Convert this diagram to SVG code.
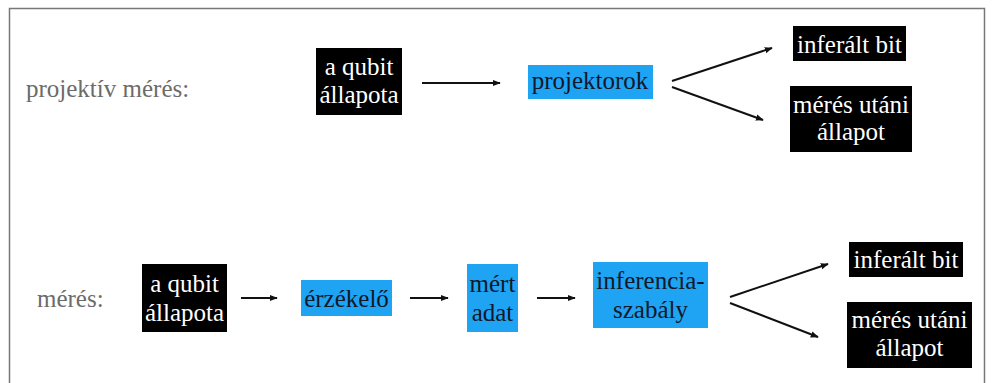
<svg xmlns="http://www.w3.org/2000/svg" width="994" height="383" viewBox="0 0 994 383">
<defs>
<marker id="ah" viewBox="0 0 10 10" refX="9" refY="5" markerWidth="4" markerHeight="4" orient="auto" markerUnits="strokeWidth">
<path d="M0,1 L10,5 L0,9 z" fill="#111"/>
</marker>
<style>
.blk{fill:#000}
.blu{fill:#1fa3f3}
.con line{stroke:#111;stroke-width:2;marker-end:url(#ah)}
</style>
</defs>
<rect width="994" height="383" fill="#fff"/>
<rect x="9.5" y="8.5" width="975" height="390" fill="none" stroke="#777" stroke-width="1.5"/>

<text x="26" y="97" font-family="Liberation Serif" font-size="25" fill="#6b6b6b">projektív mérés:</text>
<text x="37" y="307" font-family="Liberation Serif" font-size="25" fill="#6b6b6b">mérés:</text>

<g id="q1"><rect class="blk" x="316" y="48" width="86" height="67"/><text x="359" y="75" font-family="Liberation Serif" font-size="25" fill="#fff" text-anchor="middle">a qubit</text><text x="359" y="103" font-family="Liberation Serif" font-size="25" fill="#fff" text-anchor="middle">állapota</text></g>
<g id="proj"><rect class="blu" x="528" y="65" width="125" height="34"/><text x="590" y="89" font-family="Liberation Serif" font-size="25" fill="#10182a" text-anchor="middle">projektorok</text></g>
<g id="bit1"><rect class="blk" x="793" y="26" width="113" height="35"/><text x="849.5" y="53" font-family="Liberation Serif" font-size="25" fill="#fff" text-anchor="middle">inferált bit</text></g>
<g id="post1"><rect class="blk" x="790" y="86" width="122" height="66"/><text x="851" y="113" font-family="Liberation Serif" font-size="25" fill="#fff" text-anchor="middle">mérés utáni</text><text x="851" y="140" font-family="Liberation Serif" font-size="25" fill="#fff" text-anchor="middle">állapot</text></g>

<g id="q2"><rect class="blk" x="142" y="264" width="85" height="68"/><text x="184.5" y="292" font-family="Liberation Serif" font-size="25" fill="#fff" text-anchor="middle">a qubit</text><text x="184.5" y="321" font-family="Liberation Serif" font-size="25" fill="#fff" text-anchor="middle">állapota</text></g>
<g id="sens"><rect class="blu" x="301" y="280" width="91" height="36"/><text x="346.5" y="307" font-family="Liberation Serif" font-size="25" fill="#10182a" text-anchor="middle">érzékelő</text></g>
<g id="data"><rect class="blu" x="467" y="264" width="51" height="68"/><text x="492.5" y="292" font-family="Liberation Serif" font-size="25" fill="#10182a" text-anchor="middle">mért</text><text x="492.5" y="321" font-family="Liberation Serif" font-size="25" fill="#10182a" text-anchor="middle">adat</text></g>
<g id="inf"><rect class="blu" x="593" y="262" width="115" height="66"/><text x="650.5" y="289" font-family="Liberation Serif" font-size="25" fill="#10182a" text-anchor="middle">inferencia-</text><text x="650.5" y="318" font-family="Liberation Serif" font-size="25" fill="#10182a" text-anchor="middle">szabály</text></g>
<g id="bit2"><rect class="blk" x="849" y="242" width="114" height="35"/><text x="906" y="268" font-family="Liberation Serif" font-size="25" fill="#fff" text-anchor="middle">inferált bit</text></g>
<g id="post2"><rect class="blk" x="847" y="302" width="125" height="66"/><text x="909.5" y="328" font-family="Liberation Serif" font-size="25" fill="#fff" text-anchor="middle">mérés utáni</text><text x="909.5" y="356" font-family="Liberation Serif" font-size="25" fill="#fff" text-anchor="middle">állapot</text></g>

<g class="con">
<line x1="422" y1="83" x2="500" y2="83"/>
<line x1="672" y1="81" x2="772" y2="48"/>
<line x1="672" y1="87" x2="763" y2="120"/>
<line x1="241" y1="298" x2="277" y2="298"/>
<line x1="410" y1="298" x2="448" y2="298"/>
<line x1="537" y1="298" x2="575" y2="298"/>
<line x1="730" y1="297" x2="828" y2="264"/>
<line x1="730" y1="303" x2="818" y2="337"/>
</g>
</svg>
